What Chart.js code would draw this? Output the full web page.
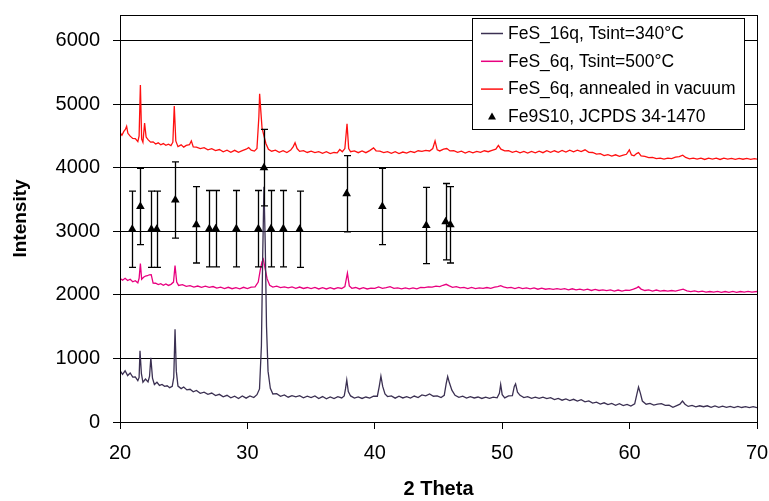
<!DOCTYPE html>
<html>
<head>
<meta charset="utf-8">
<script src="https://cdn.jsdelivr.net/npm/chart.js@4.4.1/dist/chart.umd.min.js"></script>
<style>
	html, body { margin: 0; padding: 0; background: #fff; }
	#wrap { width: 769px; height: 501px; }
</style>
</head>
<body>
<div id="wrap"><canvas id="xrd"></canvas></div>
<script>
// 2 theta / intensity pairs
const fes16q = [
	[20.0,810],[20.2,750],[20.4,805],[20.6,730],[20.8,770],[21.0,705],[21.2,710],[21.4,650],[21.5,700],[21.57,1120],
	[21.68,760],[21.8,625],[22.0,675],[22.2,630],[22.32,720],[22.42,1010],[22.55,690],[22.7,590],[22.9,625],[23.1,575],
	[23.3,590],[23.5,560],[23.7,570],[23.9,540],[24.1,560],[24.22,700],[24.32,1460],[24.42,800],[24.55,565],[24.8,525],
	[25.0,550],[25.25,505],[25.5,515],[25.75,475],[26.0,495],[26.3,450],[26.6,470],[26.9,435],[27.2,455],[27.5,415],
	[27.8,435],[28.1,395],[28.4,420],[28.7,380],[29.0,405],[29.3,370],[29.6,410],[29.9,375],[30.2,410],[30.5,385],
	[30.75,430],[30.95,520],[31.1,1200],[31.2,2600],[31.3,3700],[31.4,2800],[31.5,1500],[31.62,800],[31.8,530],[32.0,440],
	[32.3,445],[32.6,405],[32.9,425],[33.2,390],[33.5,415],[33.8,395],[34.1,415],[34.4,380],[34.7,405],[35.0,385],
	[35.3,410],[35.6,370],[35.9,400],[36.2,365],[36.5,395],[36.8,368],[37.1,398],[37.4,378],[37.6,410],[37.7,520],
	[37.8,660],[37.92,480],[38.1,410],[38.4,375],[38.7,395],[39.0,370],[39.3,393],[39.6,375],[39.9,405],[40.2,405],
	[40.35,560],[40.48,720],[40.62,560],[40.8,440],[41.0,400],[41.3,410],[41.6,375],[41.9,405],[42.2,378],[42.5,398],
	[42.8,375],[43.1,408],[43.4,385],[43.7,425],[44.0,410],[44.3,440],[44.6,405],[44.9,412],[45.2,385],[45.45,420],
	[45.6,600],[45.72,715],[45.85,620],[46.05,500],[46.3,420],[46.6,388],[46.9,405],[47.2,375],[47.5,398],[47.8,378],
	[48.1,393],[48.4,370],[48.7,392],[49.0,372],[49.3,392],[49.6,380],[49.78,450],[49.88,590],[50.0,430],[50.2,380],
	[50.5,410],[50.8,415],[50.95,560],[51.05,600],[51.2,470],[51.4,420],[51.7,385],[52.0,400],[52.3,372],[52.6,392],
	[52.9,372],[53.2,392],[53.5,368],[53.8,382],[54.1,352],[54.4,372],[54.7,343],[55.0,362],[55.3,338],[55.6,357],
	[55.9,328],[56.2,352],[56.5,318],[56.8,332],[57.1,298],[57.4,312],[57.7,283],[58.0,302],[58.3,273],[58.6,292],
	[58.9,263],[59.2,287],[59.5,258],[59.8,277],[60.1,250],[60.4,285],[60.55,420],[60.7,550],[60.85,450],[61.0,330],
	[61.3,280],[61.6,292],[61.9,265],[62.2,282],[62.5,288],[62.8,262],[63.1,265],[63.4,232],[63.7,258],[63.95,280],
	[64.15,330],[64.35,280],[64.6,245],[64.9,260],[65.2,238],[65.5,255],[65.8,240],[66.1,255],[66.4,232],[66.7,252],
	[67.0,230],[67.3,248],[67.6,230],[67.9,245],[68.2,228],[68.5,245],[68.8,228],[69.1,242],[69.4,225],[69.7,240],[70.0,225]
];

const fes6q = [
	[20.0,2260],[20.2,2230],[20.4,2260],[20.6,2225],[20.8,2245],[21.0,2205],[21.2,2222],[21.4,2188],[21.5,2260],[21.6,2490],
	[21.7,2245],[21.85,2275],[22.0,2295],[22.15,2300],[22.3,2315],[22.45,2318],[22.6,2185],[22.8,2182],[23.0,2160],[23.2,2175],
	[23.4,2150],[23.6,2172],[23.8,2148],[24.0,2165],[24.2,2200],[24.32,2460],[24.45,2200],[24.6,2148],[24.9,2160],[25.2,2132],
	[25.5,2145],[25.8,2120],[26.1,2138],[26.4,2118],[26.7,2135],[27.0,2118],[27.3,2130],[27.6,2105],[27.9,2120],[28.2,2098],
	[28.5,2118],[28.8,2096],[29.1,2112],[29.4,2095],[29.7,2118],[30.0,2098],[30.3,2122],[30.6,2125],[30.85,2200],[31.0,2380],
	[31.15,2520],[31.25,2560],[31.4,2400],[31.55,2250],[31.75,2150],[32.0,2122],[32.3,2135],[32.6,2112],[32.9,2125],[33.2,2110],
	[33.5,2125],[33.8,2102],[34.1,2122],[34.4,2100],[34.7,2115],[35.0,2098],[35.3,2115],[35.6,2092],[35.9,2112],[36.2,2092],
	[36.5,2112],[36.8,2092],[37.1,2112],[37.4,2100],[37.65,2130],[37.85,2340],[38.0,2140],[38.2,2102],[38.5,2115],[38.8,2092],
	[39.1,2112],[39.4,2092],[39.7,2105],[40.0,2100],[40.3,2125],[40.6,2102],[40.9,2112],[41.2,2128],[41.5,2102],[41.8,2110],
	[42.1,2095],[42.4,2110],[42.7,2095],[43.0,2110],[43.3,2095],[43.6,2118],[43.9,2112],[44.2,2125],[44.5,2122],[44.8,2135],
	[45.1,2128],[45.35,2150],[45.6,2165],[45.85,2140],[46.1,2118],[46.4,2128],[46.7,2108],[47.0,2118],[47.3,2098],[47.6,2115],
	[47.9,2098],[48.2,2108],[48.5,2102],[48.8,2115],[49.1,2102],[49.4,2120],[49.65,2130],[49.88,2145],[50.1,2125],[50.4,2108],
	[50.7,2118],[51.0,2098],[51.3,2115],[51.6,2098],[51.9,2108],[52.2,2095],[52.5,2108],[52.8,2088],[53.1,2105],[53.4,2088],
	[53.7,2098],[54.0,2085],[54.3,2098],[54.6,2085],[54.9,2098],[55.2,2078],[55.5,2095],[55.8,2078],[56.1,2090],[56.4,2075],
	[56.7,2088],[57.0,2068],[57.3,2085],[57.6,2068],[57.9,2078],[58.2,2065],[58.5,2078],[58.8,2058],[59.1,2075],[59.4,2058],
	[59.7,2075],[60.0,2070],[60.3,2088],[60.55,2110],[60.7,2128],[60.9,2090],[61.2,2068],[61.5,2078],[61.8,2058],[62.1,2075],
	[62.4,2058],[62.7,2068],[63.0,2058],[63.3,2068],[63.6,2058],[63.9,2075],[64.2,2088],[64.5,2062],[64.8,2050],[65.1,2062],
	[65.4,2045],[65.7,2058],[66.0,2042],[66.3,2052],[66.6,2042],[66.9,2055],[67.2,2040],[67.5,2052],[67.8,2040],[68.1,2055],
	[68.4,2040],[68.7,2052],[69.0,2042],[69.3,2055],[69.6,2042],[70.0,2052]
];

const fes6qAnnealed = [
	[20.0,4550],[20.15,4510],[20.3,4570],[20.42,4600],[20.52,4650],[20.62,4540],[20.8,4495],[21.0,4460],[21.2,4455],[21.4,4410],
	[21.5,4500],[21.6,5300],[21.7,4450],[21.8,4400],[21.93,4700],[22.05,4480],[22.2,4440],[22.4,4400],[22.6,4405],[22.8,4370],
	[23.0,4390],[23.2,4360],[23.4,4378],[23.6,4350],[23.8,4368],[24.0,4345],[24.15,4400],[24.26,4970],[24.38,4420],[24.55,4330],
	[24.8,4358],[25.0,4322],[25.2,4350],[25.45,4360],[25.6,4420],[25.75,4325],[26.0,4322],[26.3,4300],[26.6,4315],[26.9,4280],
	[27.2,4298],[27.5,4268],[27.8,4285],[28.1,4250],[28.4,4275],[28.7,4242],[29.0,4272],[29.3,4240],[29.6,4268],[29.9,4290],
	[30.1,4315],[30.3,4275],[30.55,4260],[30.75,4300],[30.9,4800],[30.96,5160],[31.05,4900],[31.15,4620],[31.3,4500],[31.45,4380],
	[31.65,4290],[31.9,4258],[32.2,4275],[32.5,4240],[32.8,4265],[33.1,4238],[33.4,4275],[33.6,4330],[33.74,4390],[33.9,4300],
	[34.1,4255],[34.4,4268],[34.7,4238],[35.0,4258],[35.3,4235],[35.6,4252],[35.9,4225],[36.2,4250],[36.5,4220],[36.8,4238],
	[37.05,4232],[37.25,4285],[37.45,4250],[37.65,4300],[37.82,4690],[37.95,4300],[38.1,4250],[38.4,4262],[38.7,4235],[39.0,4262],
	[39.3,4235],[39.6,4268],[39.9,4310],[40.1,4265],[40.4,4258],[40.7,4235],[41.0,4252],[41.3,4225],[41.6,4250],[41.9,4222],
	[42.2,4245],[42.5,4228],[42.8,4255],[43.1,4238],[43.4,4265],[43.7,4255],[44.0,4272],[44.3,4262],[44.55,4300],[44.73,4420],
	[44.9,4280],[45.1,4262],[45.4,4290],[45.65,4300],[45.9,4262],[46.2,4265],[46.5,4240],[46.8,4258],[47.1,4230],[47.4,4255],
	[47.7,4232],[48.0,4255],[48.3,4240],[48.6,4265],[48.9,4250],[49.2,4272],[49.5,4290],[49.7,4350],[49.9,4290],[50.2,4262],
	[50.5,4265],[50.8,4240],[51.1,4258],[51.4,4232],[51.7,4255],[52.0,4230],[52.3,4255],[52.6,4232],[52.9,4260],[53.2,4235],
	[53.5,4265],[53.8,4240],[54.1,4265],[54.4,4242],[54.7,4270],[55.0,4245],[55.3,4275],[55.6,4248],[55.9,4275],[56.2,4252],
	[56.5,4280],[56.8,4240],[57.1,4238],[57.4,4212],[57.7,4220],[58.0,4190],[58.3,4205],[58.6,4182],[58.9,4202],[59.2,4178],
	[59.5,4198],[59.75,4210],[59.98,4280],[60.15,4200],[60.35,4185],[60.55,4220],[60.7,4235],[60.9,4185],[61.2,4178],[61.5,4158],
	[61.8,4162],[62.1,4142],[62.4,4148],[62.7,4135],[63.0,4150],[63.3,4142],[63.6,4165],[63.9,4172],[64.17,4195],[64.4,4160],
	[64.7,4138],[65.0,4150],[65.3,4135],[65.6,4150],[65.9,4128],[66.2,4148],[66.5,4135],[66.8,4150],[67.1,4128],[67.4,4148],
	[67.7,4135],[68.0,4145],[68.3,4130],[68.6,4145],[68.9,4132],[69.2,4145],[69.5,4130],[69.8,4142],[70.0,4135]
];

// reference pattern Fe9S10 (JCPDS 34-1470)
const refTheta = [20.96, 21.6, 22.46, 22.88, 24.34, 25.99, 27.01, 27.51, 29.13, 30.86, 31.3, 31.85, 32.82, 34.1, 37.79, 40.59, 44.04, 45.56, 45.93];
const refLevel = [3030, 3390, 3030, 3030, 3490, 3100, 3040, 3040, 3040, 3040, 4000, 3040, 3040, 3030, 3590, 3390, 3090, 3150, 3100];
const refError = [600, 600, 600, 600, 600, 600, 600, 600, 600, 600, 600, 600, 600, 600, 600, 600, 600, 600, 600];

const xTicks = [20, 30, 40, 50, 60, 70];
const yTicks = [0, 1000, 2000, 3000, 4000, 5000, 6000];

const FONT = "'Liberation Sans', Arial, Helvetica, sans-serif";

// error bars for the reference markers
const errorBars = {
	id: 'errorBars',
	afterDatasetsDraw: function (chart) {
		const meta = chart.getDatasetMeta(3);
		if (meta.hidden) return;
		const xs = chart.scales.x;
		const ys = chart.scales.y;
		const ctx = chart.ctx;
		ctx.save();
		ctx.strokeStyle = '#000';
		ctx.lineWidth = 1.3;
		for (let i = 0; i < refTheta.length; i++) {
			const px = Math.round(xs.getPixelForValue(refTheta[i])) + 0.5;
			const top = ys.getPixelForValue(refLevel[i] + refError[i]);
			const bot = ys.getPixelForValue(refLevel[i] - refError[i]);
			ctx.beginPath();
			ctx.moveTo(px, top);
			ctx.lineTo(px, bot);
			ctx.moveTo(px - 3.5, top);
			ctx.lineTo(px + 3.5, top);
			ctx.moveTo(px - 3.5, bot);
			ctx.lineTo(px + 3.5, bot);
			ctx.stroke();
		}
		ctx.restore();
	}
};

// box round the plot + boxed legend inside it
const frameAndLegend = {
	id: 'frameAndLegend',
	beforeDraw: function (chart) {
		const ctx = chart.ctx;
		ctx.save();
		ctx.fillStyle = '#fff';
		ctx.fillRect(0, 0, chart.width, chart.height);
		ctx.restore();
	},
	afterDraw: function (chart) {
		const ctx = chart.ctx;
		const a = chart.chartArea;
		ctx.save();
		ctx.strokeStyle = '#000';
		ctx.lineWidth = 1;
		ctx.strokeRect(Math.round(a.left) + 0.5, Math.round(a.top) + 0.5,
			Math.round(a.right - a.left), Math.round(a.bottom - a.top));

		const box = {left: 472, top: 18, width: 272, height: 111};
		ctx.fillStyle = '#fff';
		ctx.fillRect(box.left, box.top, box.width, box.height);
		ctx.strokeRect(box.left + 0.5, box.top + 0.5, box.width, box.height);

		ctx.font = '17.5px ' + FONT;
		ctx.textBaseline = 'middle';
		ctx.textAlign = 'left';
		chart.data.datasets.forEach(function (ds, i) {
			const y = box.top + 15 + i * 27.8;
			if (ds.showLine === false) {
				ctx.fillStyle = '#000';
				ctx.beginPath();
				ctx.moveTo(box.left + 20, y - 4);
				ctx.lineTo(box.left + 24, y + 3);
				ctx.lineTo(box.left + 16, y + 3);
				ctx.closePath();
				ctx.fill();
			} else {
				ctx.strokeStyle = ds.borderColor;
				ctx.lineWidth = 1.5;
				ctx.beginPath();
				ctx.moveTo(box.left + 9, y + 0.5);
				ctx.lineTo(box.left + 31, y + 0.5);
				ctx.stroke();
			}
			ctx.fillStyle = '#000';
			ctx.fillText(ds.label, box.left + 36, y + 1);
		});
		ctx.restore();
	}
};

const lineSet = function (label, data, color) {
	return {
		type: 'line',
		label: label,
		data: data,
		borderColor: color,
		backgroundColor: color,
		borderWidth: 1.3,
		pointRadius: 0,
		tension: 0,
		fill: false
	};
};

new Chart(document.getElementById('xrd'), {
	data: {
		datasets: [
			lineSet('FeS_16q, Tsint=340\u00B0C', fes16q, '#3b3052'),
			lineSet('FeS_6q, Tsint=500\u00B0C', fes6q, '#e8007f'),
			lineSet('FeS_6q, annealed in vacuum', fes6qAnnealed, '#ff1010'),
			{
				type: 'scatter',
				label: 'Fe9S10, JCPDS 34-1470',
				data: refTheta.map(function (t, i) { return {x: t, y: refLevel[i]}; }),
				showLine: false,
				pointStyle: 'triangle',
				pointRadius: 5,
				pointBackgroundColor: '#000',
				pointBorderColor: '#000',
				pointBorderWidth: 0
			}
		]
	},
	options: {
		responsive: true,
		maintainAspectRatio: false,
		animation: false,
		events: [],
		layout: { padding: { left: 0, right: 12, top: 15, bottom: 0 } },
		plugins: {
			legend: { display: false },
			tooltip: { enabled: false }
		},
		scales: {
			x: {
				type: 'linear',
				min: 20,
				max: 70,
				afterBuildTicks: function (s) { s.ticks = xTicks.map(function (v) { return {value: v}; }); },
				afterFit: function (s) { s.height = 79; s.paddingLeft = 0; s.paddingRight = 0; },
				ticks: {
					color: '#000', font: { family: FONT, size: 20 }, padding: 12, maxRotation: 0,
					callback: function (v) { return String(v); }
				},
				grid: { drawOnChartArea: false, drawTicks: true, tickLength: 7, color: '#000', lineWidth: 1 },
				border: { color: '#000', width: 1 },
				title: {
					display: true, text: '2 Theta', color: '#000',
					font: { family: FONT, size: 20, weight: 'bold' },
					padding: { top: 0, bottom: 0 }
				}
			},
			y: {
				type: 'linear',
				min: 0,
				max: 6400,
				afterBuildTicks: function (s) { s.ticks = yTicks.map(function (v) { return {value: v}; }); },
				afterFit: function (s) { s.width = 120; s.paddingTop = 0; s.paddingBottom = 0; },
				ticks: {
					color: '#000', font: { family: FONT, size: 20 }, padding: 13,
					callback: function (v) { return String(v); }
				},
				grid: { drawTicks: true, tickLength: 7, color: '#000', lineWidth: 1 },
				border: { color: '#000', width: 1 },
				title: {
					display: true, text: 'Intensity', color: '#000',
					font: { family: FONT, size: 19, weight: 'bold' },
					padding: { top: 9, bottom: 0 }
				}
			}
		}
	},
	plugins: [errorBars, frameAndLegend]
});
</script>
</body>
</html>
